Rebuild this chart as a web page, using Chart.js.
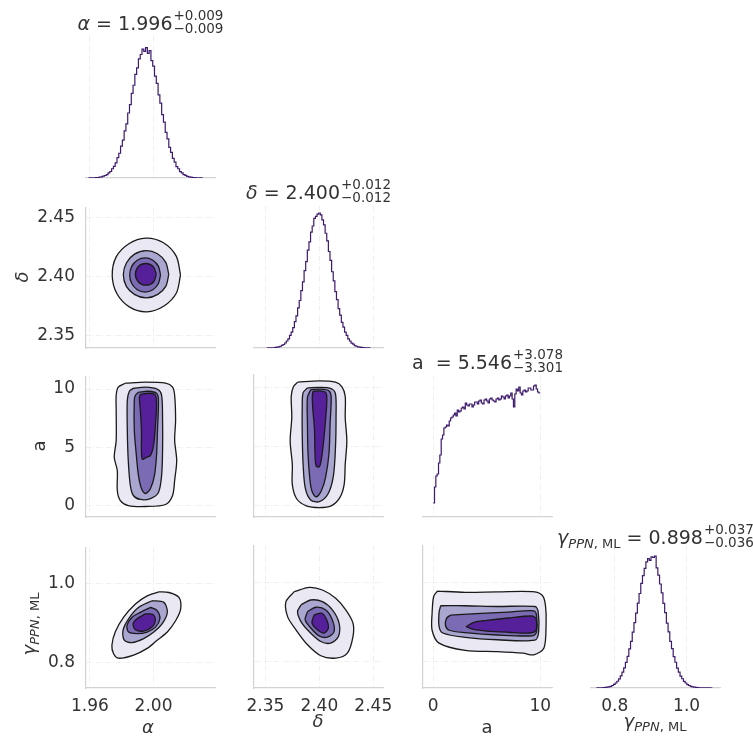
<!DOCTYPE html>
<html>
<head>
<meta charset="utf-8">
<script src="https://cdn.jsdelivr.net/npm/chart.js@4.4.1/dist/chart.umd.min.js"></script>
<style>
  body { margin: 0; background: #fff; }
  #fig { position: relative; width: 753px; height: 736px; overflow: hidden; font-family: "DejaVu Sans", sans-serif; color: #333; }
  #fig canvas { position: absolute; }
  .ttl { position: absolute; white-space: nowrap; font-size: 19px; line-height: 22px; transform: translateX(-50%); }
  .pm { display: inline-block; vertical-align: -3.5px; font-size: 13.5px; line-height: 13px; margin-left: 1px; }
  .pm span { display: block; }
  .lab { position: absolute; white-space: nowrap; font-size: 18px; line-height: 20px; }
  .sub { font-size: 13px; vertical-align: -4px; }
</style>
</head>
<body>
<div id="fig">
  <div class="ttl" style="left:150.5px;top:9px"><i>α</i> = 1.996<span class="pm"><span>+0.009</span><span>−0.009</span></span></div>
  <div class="ttl" style="left:318.5px;top:178px"><i>δ</i> = 2.400<span class="pm"><span>+0.012</span><span>−0.012</span></span></div>
  <div class="ttl" style="left:487.5px;top:348px">a&nbsp; = 5.546<span class="pm"><span>+3.078</span><span>−3.301</span></span></div>
  <div class="ttl" style="left:655.5px;top:523px"><i>γ</i><span class="sub"><i>PPN</i>, ML</span> = 0.898<span class="pm"><span>+0.037</span><span>−0.036</span></span></div>

  <div class="lab" style="left:148px;top:727px;transform:translate(-50%,-50%)"><i>α</i></div>
  <div class="lab" style="left:318px;top:721px;transform:translate(-50%,-50%)"><i>δ</i></div>
  <div class="lab" style="left:487px;top:727px;transform:translate(-50%,-50%)">a</div>
  <div class="lab" style="left:655px;top:724px;transform:translate(-50%,-50%)"><i>γ</i><span class="sub"><i>PPN</i>, ML</span></div>

  <div class="lab" style="left:22px;top:277px;transform:translate(-50%,-50%) rotate(-90deg)"><i>δ</i></div>
  <div class="lab" style="left:39px;top:446px;transform:translate(-50%,-50%) rotate(-90deg)">a</div>
  <div class="lab" style="left:32px;top:624px;transform:translate(-50%,-50%) rotate(-90deg)"><i>γ</i><span class="sub"><i>PPN</i>, ML</span></div>
</div>
<script>
// axis limits and ticks
const alphaRange = [1.9575, 2.0387];
const deltaRange = [2.3395, 2.459];
const aRange = [-0.95, 11.1];
const gammaRange = [0.734, 1.093];

const alphaTicks = [1.96, 2.00];
const alphaTickLabels = ['1.96', '2.00'];
const deltaTicks = [2.35, 2.40, 2.45];
const deltaTickLabels = ['2.35', '2.40', '2.45'];
const aXTicks = [0, 10];
const aXTickLabels = ['0', '10'];
const aYTicks = [0, 5, 10];
const aYTickLabels = ['0', '5', '10'];
const gammaTicks = [0.8, 1.0];
const gammaTickLabels = ['0.8', '1.0'];

// 1D marginal histograms (bin start, bin width, counts)
const alphaBinStart = 1.959, alphaBinWidth = 0.001125;
const alphaHist = [0.04, 0.1, 0.1, 0.2, 0.3, 0.4, 0.6, 0.9, 1.4, 1.9, 2.6, 3.9, 5.0, 7.1, 9.0, 11.6,
  15.6, 19.0, 24.5, 29.0, 36.1, 41.6, 49.9, 56.3, 65.0, 71.2, 79.6, 84.6, 91.5, 94.8, 99.0, 97.2,
  100, 95.6, 97.8, 90.1, 85.9, 78.2, 72.6, 63.8, 57.4, 48.7, 42.9, 35.0, 30.1, 23.5, 19.6, 15.0,
  12.2, 8.8, 7.1, 4.9, 3.9, 2.6, 2.0, 1.2, 0.9, 0.6, 0.4, 0.3, 0.2, 0.1, 0.1, 0.04];

const deltaBinStart = 2.3514, deltaBinWidth = 0.0015;
const deltaHist = [0.05, 0.1, 0.1, 0.2, 0.2, 0.4, 0.6, 0.9, 1.3, 2.0, 2.6, 3.7, 5.2, 6.8, 9.3, 11.8,
  15.1, 19.6, 23.8, 29.8, 35.2, 42.5, 49.0, 57.3, 64.0, 72.5, 78.6, 85.9, 90.4, 96.1, 97.5, 99.2,
  100, 98.6, 94.9, 91.2, 85.0, 79.4, 71.5, 64.9, 56.5, 49.8, 41.8, 35.9, 29.2, 24.3, 19.0, 15.5,
  11.7, 9.3, 6.8, 5.2, 3.6, 2.8, 1.8, 1.3, 0.9, 0.6, 0.4, 0.3, 0.2, 0.1, 0.1, 0.05];

const aBinStart = 0, aBinWidth = 0.125;
const aHist = [14, 30, 41, 43, 54, 62, 78, 82, 89, 90, 92, 91, 96, 99, 100, 102,
  104, 101, 107, 105, 106, 109, 110, 108, 114, 112, 111, 113, 113, 110, 112, 115,
  115, 113, 116, 117, 114, 113, 117, 118, 116, 114, 118, 119, 117, 116, 115, 118,
  119, 117, 118, 121, 120, 118, 121, 122, 119, 121, 124, 118, 110, 123, 128, 126,
  130, 124, 122, 126, 127, 125, 126, 129, 129, 127, 127, 131, 132, 128, 125, 124];

const gammaBinStart = 0.749, gammaBinWidth = 0.00475;
const gammaHist = [0.04, 0.1, 0.1, 0.2, 0.3, 0.4, 0.6, 0.9, 1.3, 1.9, 2.7, 3.8, 5.1, 6.9, 9.2, 12.0,
  15.2, 19.4, 23.9, 29.6, 35.4, 42.4, 49.5, 56.8, 64.3, 71.6, 79.3, 85.2, 90.6, 95.5, 98.0, 96.7,
  99.3, 98.9, 100, 91.0, 85.6, 78.8, 72.1, 64.2, 57.1, 49.1, 42.5, 35.3, 29.8, 23.7, 19.5, 15.1,
  12.0, 9.0, 7.0, 5.0, 3.8, 2.6, 1.9, 1.3, 0.9, 0.6, 0.4, 0.3, 0.2, 0.1, 0.1, 0.04,
  0.03, 0.02, 0.02, 0.01];

// 2D contours, outermost level first: [x, y] vertices
const alphaDeltaLevels = [
  [[2.0170,2.4015],[2.0143,2.4175],[2.0060,2.4290],[1.9952,2.4328],[1.9845,2.4280],[1.9765,2.4168],[1.9740,2.4010],[1.9770,2.3855],[1.9850,2.3742],[1.9958,2.3702],[2.0066,2.3752],[2.0144,2.3862]],
  [[2.0096,2.4020],[2.0077,2.4122],[2.0025,2.4195],[1.9953,2.4222],[1.9880,2.4192],[1.9830,2.4118],[1.9810,2.4018],[1.9829,2.3918],[1.9882,2.3848],[1.9955,2.3820],[2.0027,2.3850],[2.0078,2.3920]],
  [[2.0044,2.4015],[2.0031,2.4088],[1.9996,2.4140],[1.9947,2.4160],[1.9898,2.4140],[1.9863,2.4088],[1.9850,2.4015],[1.9863,2.3942],[1.9898,2.3890],[1.9947,2.3870],[1.9996,2.3890],[2.0031,2.3942]],
  [[2.0018,2.4020],[1.9999,2.4085],[1.9952,2.4112],[1.9905,2.4087],[1.9886,2.4020],[1.9905,2.3955],[1.9952,2.3928],[1.9999,2.3953]]
];
const alphaALevels = [
  [[1.9822,10.50],[1.9949,10.59],[2.0076,10.50],[2.0120,10.16],[2.0133,9.47],[2.0139,7.32],[2.0133,5.61],[2.0146,3.89],[2.0133,2.18],[2.0120,0.89],[2.0076,0.12],[1.9949,-0.05],[1.9841,0.03],[1.9791,0.46],[1.9772,1.32],[1.9772,3.03],[1.9753,4.15],[1.9765,5.61],[1.9765,8.18],[1.9765,9.47],[1.9778,10.16]],
  [[1.9873,10.07],[1.9949,10.16],[2.0025,9.98],[2.0051,9.47],[2.0057,7.32],[2.0057,4.75],[2.0051,2.61],[2.0031,1.15],[1.9981,0.63],[1.9917,0.55],[1.9873,0.89],[1.9854,1.75],[1.9841,3.89],[1.9835,6.47],[1.9835,9.04],[1.9848,9.81]],
  [[1.9905,9.73],[1.9968,9.81],[2.0019,9.64],[2.0031,9.04],[2.0025,6.47],[2.0019,4.32],[2.0006,2.61],[1.9981,1.49],[1.9949,1.06],[1.9924,1.49],[1.9905,2.61],[1.9892,4.32],[1.9879,6.47],[1.9879,9.04],[1.9886,9.47]],
  [[1.9917,9.56],[1.9974,9.64],[2.0012,9.47],[2.0019,8.61],[2.0012,6.90],[2.0000,5.18],[1.9981,4.32],[1.9955,4.15],[1.9930,3.98],[1.9924,4.75],[1.9924,6.47],[1.9917,8.18],[1.9911,9.21]]
];
const deltaALevels = [
  [[2.380,10.5],[2.400,10.6],[2.415,10.5],[2.421,10.1],[2.424,9.3],[2.424,7.5],[2.4255,5.5],[2.424,3.5],[2.423,1.8],[2.419,0.7],[2.411,0.0],[2.400,-0.15],[2.388,0.0],[2.379,0.6],[2.375,1.8],[2.375,3.5],[2.373,5.5],[2.3745,7.5],[2.374,9.3],[2.376,10.1]],
  [[2.389,10.0],[2.400,10.05],[2.411,9.95],[2.415,9.5],[2.4155,7.5],[2.415,5.0],[2.413,2.5],[2.408,1.0],[2.400,0.35],[2.392,0.5],[2.387,1.5],[2.385,3.5],[2.3842,6.0],[2.3842,8.5],[2.385,9.6]],
  [[2.392,9.85],[2.401,9.9],[2.409,9.75],[2.411,9.2],[2.410,7.0],[2.409,4.5],[2.406,2.5],[2.402,1.3],[2.397,0.75],[2.393,1.3],[2.391,2.5],[2.3895,4.5],[2.389,7.0],[2.389,9.2]],
  [[2.394,9.7],[2.400,9.75],[2.406,9.6],[2.407,9.0],[2.406,7.5],[2.404,5.5],[2.402,4.0],[2.400,3.3],[2.397,3.4],[2.396,4.5],[2.3955,6.5],[2.394,8.2],[2.3935,9.2]]
];
const alphaGammaLevels = [
  [[2.0033,0.979],[2.0097,0.9775],[2.0160,0.965],[2.0171,0.9356],[2.0140,0.906],[2.0087,0.8767],[2.0023,0.8558],[1.9960,0.835],[1.9875,0.818],[1.9780,0.810],[1.9748,0.822],[1.9738,0.843],[1.9759,0.8767],[1.9812,0.9145],[1.9886,0.948],[1.9960,0.969]],
  [[1.9991,0.9565],[2.0065,0.9523],[2.0087,0.9271],[2.0055,0.8979],[2.0002,0.8767],[1.9938,0.860],[1.9865,0.8498],[1.9816,0.8558],[1.9808,0.881],[1.9843,0.9105],[1.9907,0.9397]],
  [[1.9981,0.9397],[2.0023,0.9314],[2.0040,0.9105],[2.0012,0.8893],[1.9960,0.8767],[1.9896,0.8727],[1.9843,0.8767],[1.9833,0.8936],[1.9865,0.9145],[1.9917,0.927]],
  [[1.9949,0.923],[1.9998,0.9213],[2.0012,0.906],[1.9991,0.8893],[1.9938,0.8792],[1.9886,0.8827],[1.9871,0.8979],[1.9896,0.9105]]
];
const deltaGammaLevels = [
  [[2.3768,0.9775],[2.3906,0.9885],[2.4029,0.9817],[2.4152,0.9608],[2.4245,0.9314],[2.4312,0.8979],[2.4312,0.8641],[2.4260,0.8223],[2.4152,0.8097],[2.4014,0.8155],[2.3891,0.8432],[2.3784,0.881],[2.3706,0.9145],[2.3691,0.9523]],
  [[2.3830,0.944],[2.3922,0.9565],[2.4029,0.9523],[2.4121,0.9314],[2.4183,0.8979],[2.4177,0.8641],[2.4106,0.8475],[2.4014,0.8516],[2.3906,0.8767],[2.3830,0.9019],[2.3798,0.9271]],
  [[2.3891,0.9271],[2.3968,0.9382],[2.4060,0.9314],[2.4121,0.906],[2.4137,0.8767],[2.4075,0.8626],[2.3998,0.8659],[2.3922,0.8853],[2.3869,0.906]],
  [[2.3952,0.9188],[2.4023,0.923],[2.4066,0.9079],[2.4084,0.8853],[2.4045,0.8727],[2.3983,0.881],[2.3932,0.8979]]
];
const aGammaLevels = [
  [[0.4,0.979],[3,0.976],[6,0.977],[9.5,0.977],[10.25,0.966],[10.5,0.94],[10.55,0.898],[10.35,0.835],[9.4,0.818],[8.4,0.822],[6,0.826],[3,0.829],[0.55,0.8475],[-0.1,0.88],[-0.1,0.923],[0.05,0.966]],
  [[0.7,0.942],[3,0.942],[6,0.94],[9.5,0.94],[9.8,0.928],[9.85,0.875],[9.5,0.855],[6,0.856],[3,0.862],[0.9,0.873],[0.55,0.89],[0.55,0.925]],
  [[1.6,0.918],[4,0.922],[7,0.926],[9.4,0.929],[9.65,0.918],[9.65,0.875],[9.3,0.866],[6,0.868],[3,0.874],[1.5,0.88],[1.15,0.892],[1.25,0.91]],
  [[3.06,0.889],[3.8,0.900],[5,0.905],[7,0.911],[9.2,0.916],[9.6,0.91],[9.6,0.88],[9.0,0.873],[7,0.875],[5,0.878],[3.8,0.882]]
];

// layout of the grid of panels (pixels)
const COLS = [86, 254, 423, 591];
const ROWS = [36, 206, 375, 546];
const PW = 129, PH = 142;
const ML = 62, MR = 40, MT = 20, MB = 42;

const FILLS = ['#e9e8f3', '#a9a6d0', '#7b6bb4', '#55209a'];
const LINE = '#3c1a6c';
const GRID = '#ebebeb';
const SPINE = '#d2d2d2';

Chart.defaults.font.family = '"DejaVu Sans", sans-serif';

function histData(start, width, counts) {
  const pts = counts.map((c, i) => ({x: start + i * width, y: c}));
  pts.push({x: start + counts.length * width, y: counts[counts.length - 1]});
  return [{
    data: pts, showLine: true, stepped: true, pointRadius: 0,
    borderColor: LINE, borderWidth: 1.2, fill: false
  }];
}

function contourData(levels) {
  return levels.map((poly, k) => ({
    data: poly.concat([poly[0]]).map(p => ({x: p[0], y: p[1]})),
    showLine: true, pointRadius: 0, tension: 0.3,
    borderColor: '#1a1a1a', borderWidth: 1.3,
    backgroundColor: FILLS[k], fill: 'shape',
    order: 10 - k
  }));
}

function axisCfg(which, ax, showLabels, drawn) {
  return {
    type: 'linear',
    position: which === 'x' ? 'bottom' : 'left',
    min: ax.range[0], max: ax.range[1],
    afterBuildTicks: s => { s.ticks = ax.ticks.map(v => ({value: v})); },
    afterFit: s => { if (which === 'x') s.height = MB; else s.width = ML; },
    grid: {display: drawn, drawTicks: false, color: GRID, lineWidth: 0.8},
    border: {display: drawn, color: SPINE, width: 1.2, dash: [5, 2, 1, 2]},
    ticks: {
      display: showLabels, autoSkip: false, maxRotation: 0,
      padding: which === 'x' ? 8 : 11, color: '#333', font: {size: 17},
      callback: (v, i) => ax.labels[i]
    }
  };
}

const AX = {
  alpha: {range: alphaRange, ticks: alphaTicks, labels: alphaTickLabels},
  delta: {range: deltaRange, ticks: deltaTicks, labels: deltaTickLabels},
  aX: {range: aRange, ticks: aXTicks, labels: aXTickLabels},
  aY: {range: aRange, ticks: aYTicks, labels: aYTickLabels},
  gamma: {range: gammaRange, ticks: gammaTicks, labels: gammaTickLabels}
};

function addPanel(col, row, x, y, datasets, hist) {
  const cv = document.createElement('canvas');
  cv.width = PW + ML + MR;
  cv.height = PH + MT + MB;
  cv.style.left = (COLS[col] - ML) + 'px';
  cv.style.top = (ROWS[row] - MT) + 'px';
  const fig = document.getElementById('fig');
  fig.insertBefore(cv, fig.firstChild);
  new Chart(cv, {
    type: 'scatter',
    data: {datasets: datasets},
    options: {
      responsive: false, animation: false, events: [],
      layout: {padding: {top: MT, right: MR, left: 0, bottom: 0}},
      plugins: {legend: {display: false}, tooltip: {enabled: false}},
      scales: {
        x: axisCfg('x', x, row === 3, true),
        y: axisCfg('y', y, col === 0 && !hist, !hist)
      }
    }
  });
}

const histAxis = m => ({range: [0, m], ticks: [], labels: []});

addPanel(0, 0, AX.alpha, histAxis(109), histData(alphaBinStart, alphaBinWidth, alphaHist), true);
addPanel(1, 1, AX.delta, histAxis(105.2), histData(deltaBinStart, deltaBinWidth, deltaHist), true);
addPanel(2, 2, AX.aX, histAxis(142), histData(aBinStart, aBinWidth, aHist), true);
addPanel(3, 3, AX.gamma, histAxis(107.6), histData(gammaBinStart, gammaBinWidth, gammaHist), true);

addPanel(0, 1, AX.alpha, AX.delta, contourData(alphaDeltaLevels), false);
addPanel(0, 2, AX.alpha, AX.aY, contourData(alphaALevels), false);
addPanel(1, 2, AX.delta, AX.aY, contourData(deltaALevels), false);
addPanel(0, 3, AX.alpha, AX.gamma, contourData(alphaGammaLevels), false);
addPanel(1, 3, AX.delta, AX.gamma, contourData(deltaGammaLevels), false);
addPanel(2, 3, AX.aX, AX.gamma, contourData(aGammaLevels), false);
</script>
</body>
</html>
